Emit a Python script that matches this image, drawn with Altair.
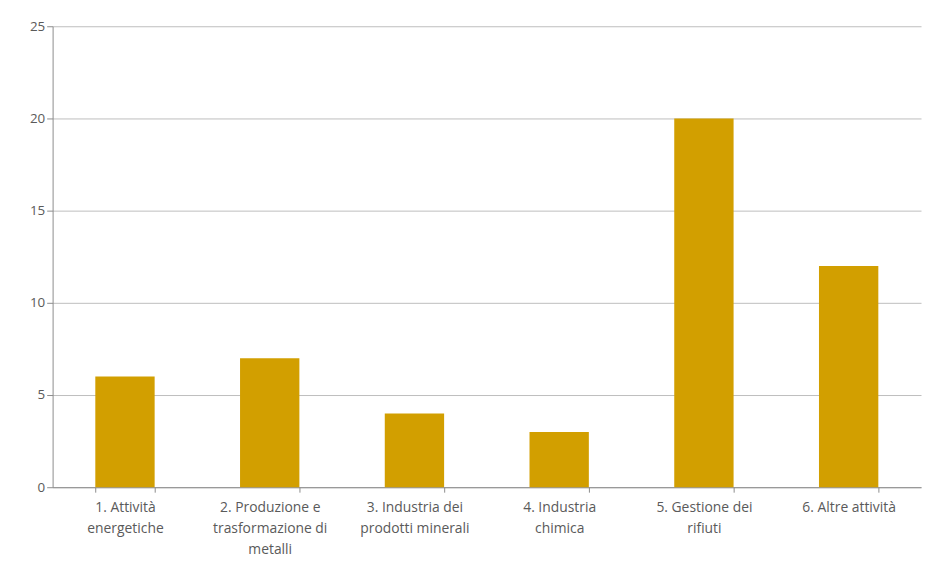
import altair as alt
import pandas as pd

categories = [
    "1. Attività\nenergetiche",
    "2. Produzione e\ntrasformazione di\nmetalli",
    "3. Industria dei\nprodotti minerali",
    "4. Industria\nchimica",
    "5. Gestione dei\nrifiuti",
    "6. Altre attività",
]
values = [6, 7, 4, 3, 20, 12]
y_ticks = [0, 5, 10, 15, 20, 25]

df = pd.DataFrame({"cat": categories, "val": values})

font = "Open Sans"

chart = alt.Chart(df).mark_bar(color="#D29F00").encode(
    x=alt.X("cat:N", sort=categories, title=None,
            scale=alt.Scale(paddingInner=0.59, paddingOuter=0.295),
            axis=alt.Axis(labelAngle=0,
                          labelExpr="isValid(datum.value) ? split(datum.value, '\\n') : ''",
                          tickBand="extent", tickSize=5, labelPadding=9,
                          domainColor="#8c8c8c", tickColor="#8c8c8c",
                          labelColor="#5a5a5a", labelFont=font, labelFontSize=14,
                          labelLineHeight=21, labelBaseline="top", grid=False)),
    y=alt.Y("val:Q", title=None,
            scale=alt.Scale(domain=[0, 25]),
            axis=alt.Axis(values=y_ticks, tickSize=6, labelPadding=2,
                          domainColor="#8c8c8c", tickColor="#8c8c8c",
                          gridColor="#bdbdbd", labelColor="#5a5a5a",
                          labelFont=font, labelFontSize=13.5)),
).properties(
    width=876, height=465,
    autosize=alt.AutoSizeParams(type="none"),
    padding={"left": 45, "top": 16, "right": 2, "bottom": 70},
).configure_view(stroke=None)

chart.save("out.html", embed_options={"renderer": "svg", "actions": False})
